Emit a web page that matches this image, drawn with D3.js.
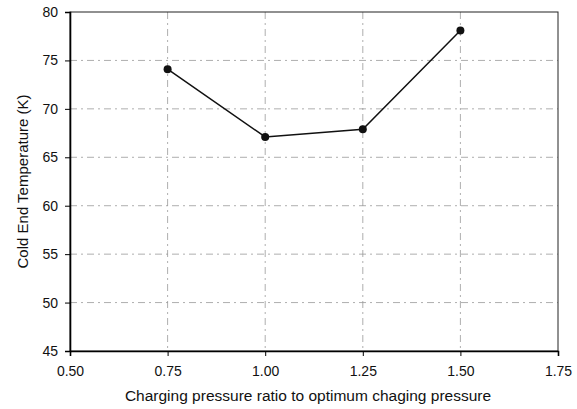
<!DOCTYPE html>
<html>
<head>
<meta charset="utf-8">
<script src="https://cdn.jsdelivr.net/npm/d3@7"></script>
<style>
  body { margin: 0; background: #fff; }
  svg { display: block; font-family: 'Liberation Sans', Arial, sans-serif; }
</style>
</head>
<body>
<div id="chart"></div>
<script>
const ratios = [0.75, 1.00, 1.25, 1.50];
const temps = [74.1, 67.1, 67.9, 78.1];
const xTicks = [0.50, 0.75, 1.00, 1.25, 1.50, 1.75];
const yTicks = [45, 50, 55, 60, 65, 70, 75, 80];

const width = 577, height = 409;
const margin = {top: 12, right: 19, bottom: 58, left: 70};

const x = d3.scaleLinear()
  .domain([0.5, 1.75])
  .range([margin.left, width - margin.right]);

const y = d3.scaleLinear()
  .domain([45, 80])
  .range([height - margin.bottom, margin.top]);

const svg = d3.select('#chart')
  .append('svg')
  .attr('width', width)
  .attr('height', height);

// grid
svg.append('g')
  .attr('stroke', '#999')
  .attr('stroke-width', 0.8)
  .attr('stroke-dasharray', '7,4,2,4')
  .call(g => g.selectAll('line.h')
    .data(yTicks.slice(1, -1))
    .join('line')
    .attr('x1', margin.left)
    .attr('x2', width - margin.right)
    .attr('y1', d => y(d))
    .attr('y2', d => y(d)))
  .call(g => g.selectAll('line.v')
    .data(xTicks.slice(1, -1))
    .join('line')
    .attr('class', 'v')
    .attr('y1', margin.top)
    .attr('y2', height - margin.bottom)
    .attr('x1', d => x(d))
    .attr('x2', d => x(d)));

// frame
svg.append('rect')
  .attr('x', margin.left)
  .attr('y', margin.top)
  .attr('width', width - margin.left - margin.right)
  .attr('height', height - margin.top - margin.bottom)
  .attr('fill', 'none')
  .attr('stroke', '#222')
  .attr('stroke-width', 1);

svg.append('g')
  .attr('transform', `translate(0,${height - margin.bottom})`)
  .call(d3.axisBottom(x).tickValues(xTicks).tickFormat(d3.format('.2f')).tickSize(5).tickPadding(10))
  .call(g => g.select('.domain').attr('stroke-width', 1.6))
  .call(g => g.selectAll('.tick text').attr('font-size', 14).attr('fill', '#111'));

svg.append('g')
  .attr('transform', `translate(${margin.left},0)`)
  .call(d3.axisLeft(y).tickValues(yTicks).tickSize(5).tickPadding(7))
  .call(g => g.select('.domain').attr('stroke-width', 1.6))
  .call(g => g.selectAll('.tick text').attr('font-size', 14).attr('fill', '#111'));

// axis titles
svg.append('text')
  .attr('x', 308)
  .attr('y', 401)
  .attr('text-anchor', 'middle')
  .attr('font-size', 15.5)
  .attr('fill', '#111')
  .text('Charging pressure ratio to optimum chaging pressure');

svg.append('text')
  .attr('transform', `translate(28,${(margin.top + height - margin.bottom) / 2}) rotate(-90)`)
  .attr('text-anchor', 'middle')
  .attr('font-size', 15)
  .attr('fill', '#111')
  .text('Cold End Temperature (K)');

const line = d3.line()
  .x((d, i) => x(ratios[i]))
  .y(d => y(d));

svg.append('path')
  .datum(temps)
  .attr('fill', 'none')
  .attr('stroke', '#111')
  .attr('stroke-width', 1.5)
  .attr('d', line);

svg.append('g')
  .attr('fill', '#111')
  .selectAll('circle')
  .data(temps)
  .join('circle')
  .attr('cx', (d, i) => x(ratios[i]))
  .attr('cy', d => y(d))
  .attr('r', 4);
</script>
</body>
</html>
